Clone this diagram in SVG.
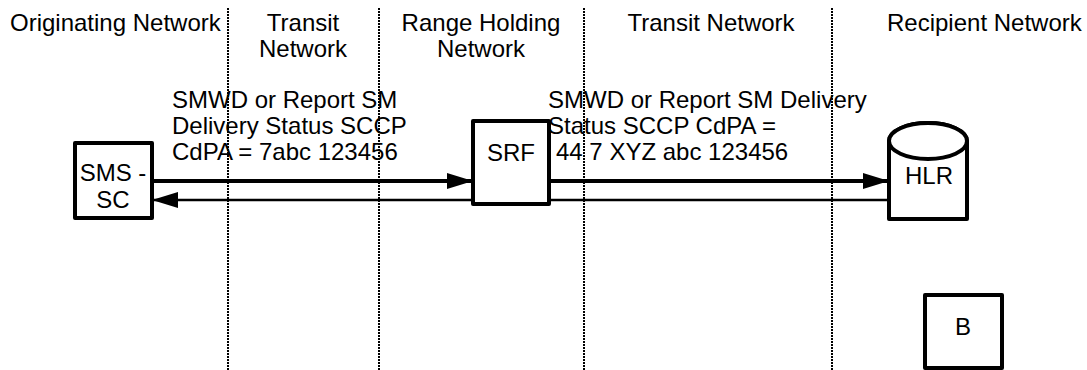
<svg xmlns="http://www.w3.org/2000/svg" width="1087" height="370" viewBox="0 0 1087 370">
<style>
text{font-family:"Liberation Sans",Arial,sans-serif;font-size:24px;fill:#000}
.c{text-anchor:middle}
.div{stroke:#000;stroke-width:2;stroke-dasharray:2 1;fill:none;shape-rendering:crispEdges}
.box{fill:#fff;stroke:#000;stroke-width:4;stroke-linejoin:round}
.thick{stroke:#000;stroke-width:4;fill:none}
.thin{stroke:#000;stroke-width:2.5;fill:none}
</style>
<defs>
<marker id="ah" markerWidth="26" markerHeight="16" refX="26" refY="8" orient="auto" markerUnits="userSpaceOnUse">
<path d="M0,0 L26,8 L0,16 Z" fill="#000"/>
</marker>
</defs>
<g id="headers">
<text x="10" y="31">Originating Network</text>
<text class="c" x="303" y="31">Transit</text>
<text class="c" x="303" y="57">Network</text>
<text class="c" x="481" y="31">Range Holding</text>
<text class="c" x="481" y="57">Network</text>
<text class="c" x="711" y="31">Transit Network</text>
<text x="887" y="31">Recipient Network</text>
</g>
<g id="dividers">
<line class="div" x1="228" y1="8" x2="228" y2="370"/>
<line class="div" x1="379" y1="8" x2="379" y2="370"/>
<line class="div" x1="584" y1="8" x2="584" y2="370"/>
<line class="div" x1="832" y1="8" x2="832" y2="370"/>
</g>
<g id="connectors">
<line class="thick" x1="152" y1="181" x2="473" y2="181" marker-end="url(#ah)"/>
<line class="thick" x1="549" y1="181" x2="889" y2="181" marker-end="url(#ah)"/>
<line class="thin" x1="889" y1="200" x2="152" y2="200" marker-end="url(#ah)"/>
</g>
<g id="labels">
<text x="172" y="108">SMWD or Report SM</text>
<text x="172" y="134">Delivery Status SCCP</text>
<text x="172" y="160">CdPA = 7abc 123456</text>
<text x="548" y="108">SMWD or Report SM Delivery</text>
<text x="548" y="134">Status SCCP CdPA =</text>
<text x="556" y="160">44 7 XYZ abc 123456</text>
</g>
<g id="sms-sc">
<rect class="box" x="75" y="143" width="77" height="75"/>
<text class="c" x="113" y="181">SMS -</text>
<text class="c" x="113" y="208">SC</text>
</g>
<g id="srf">
<rect class="box" x="473" y="121" width="76" height="83"/>
<text class="c" x="511" y="161">SRF</text>
</g>
<g id="hlr">
<path class="box" d="M889,141 L889,219 L967,219 L967,141 A39,18 0 0 0 889,141 Z"/>
<ellipse class="box" cx="928" cy="141" rx="39" ry="18"/>
<text class="c" x="929" y="184">HLR</text>
</g>
<g id="b">
<rect class="box" x="925" y="295" width="77" height="73"/>
<text class="c" x="963" y="335">B</text>
</g>
</svg>
